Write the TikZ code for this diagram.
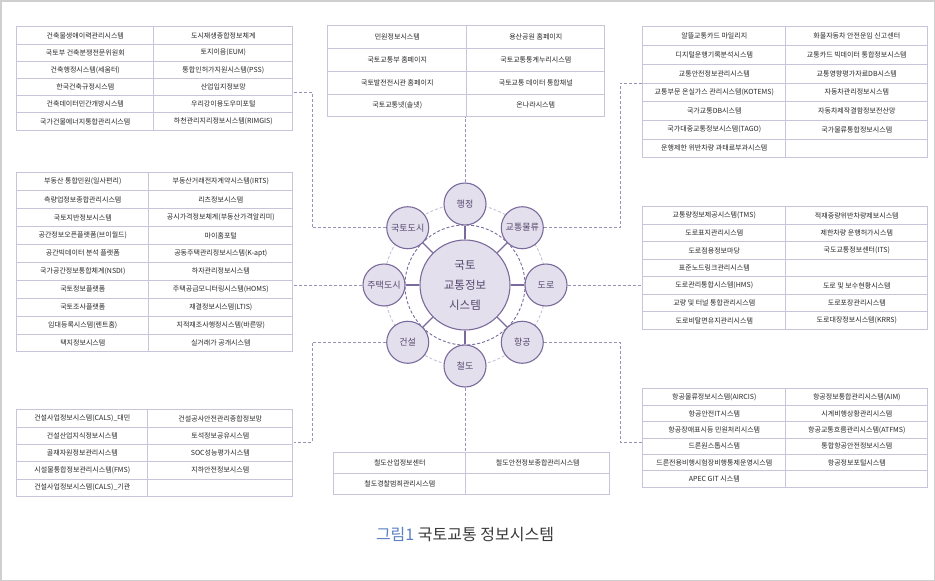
\documentclass[tikz,border=0pt]{standalone}
\usepackage{fontspec}
\setmainfont{Noto Sans CJK KR}
\usetikzlibrary{matrix,backgrounds}
\definecolor{cellline}{HTML}{C9C4D9}
\definecolor{celltext}{HTML}{262626}
\definecolor{linkline}{HTML}{9C92B8}
\definecolor{circfill}{HTML}{E4DFEC}
\definecolor{circline}{HTML}{7B6B9C}
\definecolor{circtext}{HTML}{55476F}
\definecolor{ringpale}{HTML}{C8C1D8}
\definecolor{capblue}{HTML}{5B80C2}
\definecolor{captext}{HTML}{3A3A3A}
\definecolor{framegray}{HTML}{CFCFCF}

\begin{document}
\begin{tikzpicture}[x=1pt,y=-1pt,
array/.style={matrix of nodes, anchor=north west, inner sep=0pt, nodes in empty cells, line width=0.8pt,
  column sep=-\pgflinewidth, row sep=-\pgflinewidth,
  nodes={draw=cellline, text=celltext, inner sep=0pt, anchor=center,
    font=\fontsize{7}{8}\selectfont}},
rowh/.style={nodes={minimum height=#1}},
cols/.style 2 args={column 1/.style={nodes={minimum width=#1}},
  column 2/.style={nodes={minimum width=#2}}},
hub/.style={circle, draw=circline, fill=circfill, line width=1.1pt, minimum size=90pt,
  text=circtext, align=center, font=\fontsize{11.5}{20}\selectfont},
sat/.style={circle, draw=circline, fill=circfill, line width=1.1pt, minimum size=42pt,
  inner sep=0pt, text=circtext, font=\fontsize{9}{10}\selectfont},
spoke/.style={draw=circline, line width=1.1pt},
link/.style={draw=linkline, line width=0.9pt, dash pattern=on 3pt off 2pt}]
\useasboundingbox (0,0) rectangle (935,581);
\draw[framegray, line width=1.5pt] (0.75,0.75) rectangle (934.25,580.25);

% 국토도시
\matrix[array, rowh=17.2pt, cols={137pt}{139pt}] (tabland) at (16,26) {
건축물생애이력관리시스템 & 도시재생종합정보체계\\
국토부 건축분쟁전문위원회 & 토지이음(EUM)\\
건축행정시스템(세움터) & 통합인허가지원시스템(PSS)\\
한국건축규정시스템 & 산업입지정보망\\
건축데이터민간개방시스템 & 우리강이용도우미포털\\
국가건물에너지통합관리시스템 & 하천관리지리정보시스템(RIMGIS)\\};

% 주택도시
\matrix[array, rowh=17.9pt, cols={132pt}{144pt}] (tabhouse) at (16,172) {
부동산 통합민원(일사편리) & 부동산거래전자계약시스템(IRTS)\\
측량업정보종합관리시스템 & 리츠정보시스템\\
국토지반정보시스템 & 공시가격정보체계(부동산가격알리미)\\
공간정보오픈플랫폼(브이월드) & 마이홈포털\\
공간빅데이터 분석 플랫폼 & 공동주택관리정보시스템(K-apt)\\
국가공간정보통합체계(NSDI) & 하자관리정보시스템\\
국토정보플랫폼 & 주택공급모니터링시스템(HOMS)\\
국토조사플랫폼 & 재결정보시스템(LTIS)\\
임대등록시스템(렌트홈) & 지적재조사행정시스템(바른땅)\\
택지정보시스템 & 실거래가 공개시스템\\};

% 건설
\matrix[array, rowh=17.3pt, cols={131pt}{145pt}] (tabbuild) at (16,409) {
건설사업정보시스템(CALS)\_대민 & 건설공사안전관리종합정보망\\
건설산업지식정보시스템 & 토석정보공유시스템\\
골재자원정보관리시스템 & SOC성능평가시스템\\
시설물통합정보관리시스템(FMS) & 지하안전정보시스템\\
건설사업정보시스템(CALS)\_기관 & \\};

% 행정
\matrix[array, rowh=22.7pt, cols={139pt}{138pt}] (tabadmin) at (327,25) {
민원정보시스템 & 용산공원 홈페이지\\
국토교통부 홈페이지 & 국토교통통계누리시스템\\
국토발전전시관 홈페이지 & 국토교통 데이터 통합채널\\
국토교통넷(솔넷) & 온나라시스템\\};

% 철도
\matrix[array, rowh=20.8pt, cols={132pt}{144pt}] (tabrail) at (333,452) {
철도산업정보센터 & 철도안전정보종합관리시스템\\
철도경찰범죄관리시스템 & \\};

% 교통물류
\matrix[array, rowh=18.7pt, cols={143pt}{142pt}] (tablogis) at (642,26) {
알뜰교통카드 마일리지 & 화물자동차 안전운임 신고센터\\
디지털운행기록분석시스템 & 교통카드 빅데이터 통합정보시스템\\
교통안전정보관리시스템 & 교통영향평가자료DB시스템\\
교통부문 온실가스 관리시스템(KOTEMS) & 자동차관리정보시스템\\
국가교통DB시스템 & 자동차제작결함정보전산망\\
국가대중교통정보시스템(TAGO) & 국가물류통합정보시스템\\
운행제한 위반차량 과태료부과시스템 & \\};

% 도로
\matrix[array, rowh=17.5pt, cols={143pt}{142pt}] (tabroad) at (642,206) {
교통량정보제공시스템(TMS) & 적재중량위반차량제보시스템\\
도로표지관리시스템 & 제한차량 운행허가시스템\\
도로점용정보마당 & 국도교통정보센터(ITS)\\
표준노드링크관리시스템 & \\
도로관리통합시스템(HMS) & 도로 및 보수현황시스템\\
교량 및 터널 통합관리시스템 & 도로포장관리시스템\\
도로비탈면유지관리시스템 & 도로대장정보시스템(KRRS)\\};

% 항공
\matrix[array, rowh=16.4pt, cols={143pt}{142pt}] (tabair) at (642,388) {
항공물류정보시스템(AIRCIS) & 항공정보통합관리시스템(AIM)\\
항공안전IT시스템 & 시계비행상황관리시스템\\
항공장애표시등 민원처리시스템 & 항공교통흐름관리시스템(ATFMS)\\
드론원스톱시스템 & 통합항공안전정보시스템\\
드론전용비행시험장비행통제운영시스템 & 항공정보포털시스템\\
APEC GIT 시스템 & \\};

% center
\node[hub] (sys) at (465,285) {국토\\교통정보\\시스템};
\foreach \ang/\nm/\txt in {90/admin/행정, 45/logis/교통물류, 0/road/도로, -45/air/항공,
  -90/rail/철도, -135/build/건설, 180/house/주택도시, 135/land/국토도시}
  \node[sat] (\nm) at ([shift={(\ang:81pt)}]sys.center) {\txt};

\begin{scope}[on background layer]
\draw[ringpale, line width=0.9pt, dash pattern=on 3pt off 2pt] (sys.center) circle (81pt);
\draw[circline, line width=0.9pt, dash pattern=on 3pt off 2pt] (sys.center) circle (60pt);
\foreach \nm in {admin,logis,road,air,rail,build,house,land}
  \draw[spoke] (sys) -- (\nm);
\end{scope}

% links
\coordinate (kL) at (312,92);
\coordinate (kB) at (312,442);
\coordinate (kT) at (620,83);
\coordinate (kA) at (620,442);
\draw[link] (land.west) -| (kL) -- (kL -| tabland.east);
\draw[link] (house.west) -- (house.west -| tabhouse.east);
\draw[link] (build.west) -| (kB) -- (kB -| tabbuild.east);
\draw[link] (admin.north) -- (admin.north |- tabadmin.south);
\draw[link] (rail.south) -- (rail.south |- tabrail.north);
\draw[link] (logis.east) -| (kT) -- (kT -| tablogis.west);
\draw[link] (road.east) -- (road.east -| tabroad.west);
\draw[link] (air.east) -| (kA) -- (kA -| tabair.west);

\node[text=captext, font=\fontsize{16}{18}\selectfont] (cap) at (465,535)
  {{\color{capblue}그림1} 국토교통 정보시스템};
\end{tikzpicture}
\end{document}
